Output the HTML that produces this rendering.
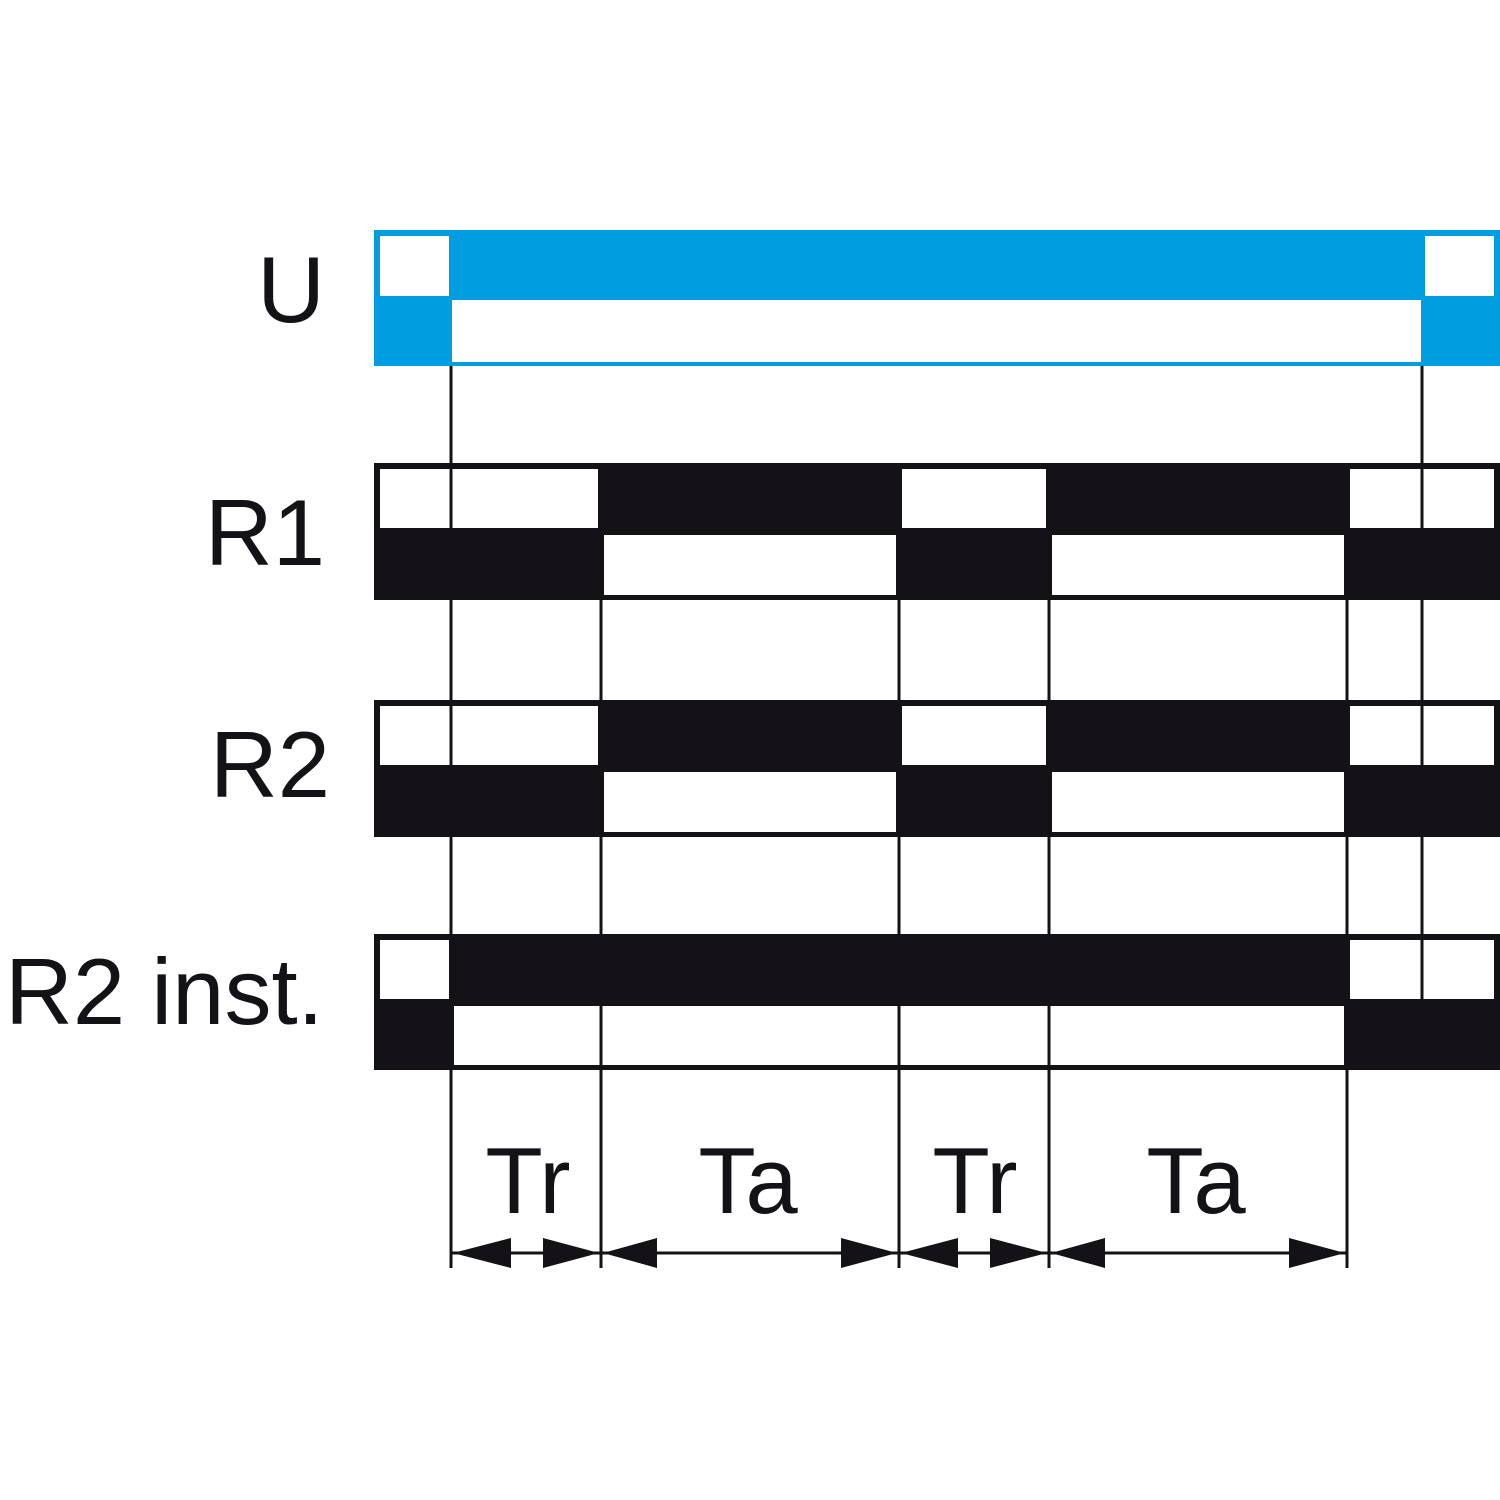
<!DOCTYPE html>
<html><head><meta charset="utf-8"><style>html,body{margin:0;padding:0;background:#fff}svg{display:block}</style></head>
<body>
<svg width="1500" height="1500" viewBox="0 0 1500 1500" xmlns="http://www.w3.org/2000/svg" font-family="Liberation Sans, sans-serif">
<rect width="1500" height="1500" fill="#fff"/>
<!-- U -->
<rect x="374" y="230" width="1126" height="136" fill="#009ee0"/>
<rect x="380" y="236" width="69" height="60" fill="#fff"/>
<rect x="452" y="300" width="969" height="62" fill="#fff"/>
<rect x="1425" y="236" width="69" height="60" fill="#fff"/>
<!-- R1 -->
<rect x="374" y="463" width="1126" height="137" fill="#141216"/>
<rect x="380" y="469" width="218" height="59" fill="#fff"/>
<rect x="902" y="469" width="144" height="59" fill="#fff"/>
<rect x="1350" y="469" width="144" height="59" fill="#fff"/>
<rect x="604" y="535" width="292" height="60" fill="#fff"/>
<rect x="1052" y="535" width="292" height="60" fill="#fff"/>
<!-- R2 -->
<rect x="374" y="700" width="1126" height="137" fill="#141216"/>
<rect x="380" y="706" width="218" height="59" fill="#fff"/>
<rect x="902" y="706" width="144" height="59" fill="#fff"/>
<rect x="1350" y="706" width="144" height="59" fill="#fff"/>
<rect x="604" y="772" width="292" height="60" fill="#fff"/>
<rect x="1052" y="772" width="292" height="60" fill="#fff"/>
<!-- R2 inst -->
<rect x="374" y="934" width="1126" height="136" fill="#141216"/>
<rect x="380" y="940" width="69" height="59" fill="#fff"/>
<rect x="1350" y="940" width="144" height="59" fill="#fff"/>
<rect x="454" y="1006" width="890" height="59" fill="#fff"/>
<!-- verticals -->
<g stroke="#141216" stroke-width="3">
<line x1="451" y1="366" x2="451" y2="1268"/>
<line x1="601" y1="600" x2="601" y2="1268"/>
<line x1="899" y1="600" x2="899" y2="1268"/>
<line x1="1049" y1="600" x2="1049" y2="1268"/>
<line x1="1347" y1="600" x2="1347" y2="1268"/>
<line x1="1422" y1="366" x2="1422" y2="1000"/>
<line x1="451" y1="1253" x2="1347" y2="1253"/>
</g>
<!-- arrowheads -->
<g fill="#141216">
<polygon points="453,1253 511,1238 511,1268"/>
<polygon points="599,1253 543,1238 543,1268"/>
<polygon points="603,1253 657,1238 657,1268"/>
<polygon points="897,1253 841,1238 841,1268"/>
<polygon points="901,1253 958,1238 958,1268"/>
<polygon points="1047,1253 990,1238 990,1268"/>
<polygon points="1051,1253 1105,1238 1105,1268"/>
<polygon points="1345,1253 1289,1238 1289,1268"/>
</g>
<!-- labels -->
<g fill="#141216" font-size="94">
<text x="325" y="322" text-anchor="end">U</text>
<text x="325" y="565" text-anchor="end">R1</text>
<text x="330" y="797" text-anchor="end">R2</text>
<text x="5" y="1024">R2 inst.</text>
<text x="528" y="1213" text-anchor="middle">Tr</text>
<text x="748" y="1213" text-anchor="middle">Ta</text>
<text x="975" y="1213" text-anchor="middle">Tr</text>
<text x="1196" y="1213" text-anchor="middle">Ta</text>
</g>
</svg>
</body></html>
